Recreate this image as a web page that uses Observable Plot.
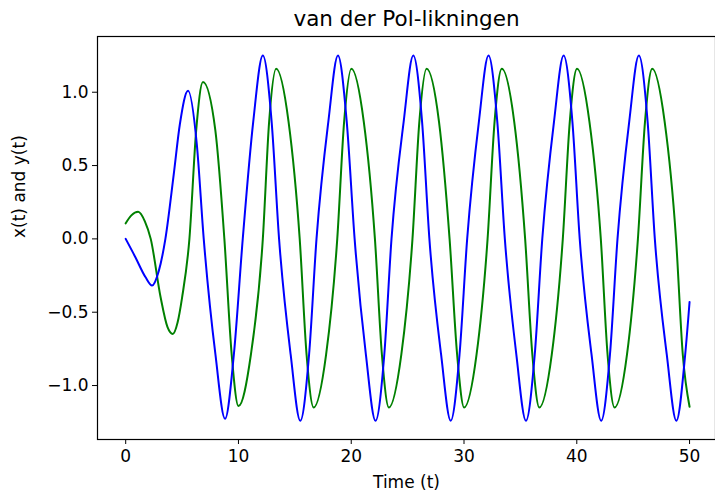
<!DOCTYPE html>
<html>
<head>
<meta charset="utf-8">
<script src="https://cdn.jsdelivr.net/npm/d3@7"></script>
<script src="https://cdn.jsdelivr.net/npm/@observablehq/plot@0.6"></script>
<style>
  html, body { margin: 0; padding: 0; background: #fff; }
</style>
</head>
<body>
<div id="chart"></div>
<script>
const title = "van der Pol-likningen";
const xLabel = "Time (t)";
const yLabel = "x(t) and y(t)";
const xTicks = [0, 10, 20, 30, 40, 50];
const yTicks = [-1.0, -0.5, 0.0, 0.5, 1.0];

// x(t) — blue curve
const xTime = [0, 0.86, 1.75, 2.34, 2.93, 3.52, 4.26, 4.8, 5.53, 6.3, 6.92, 7.96, 8.81, 9.59, 10.38, 11.31,
  12.16, 12.94, 13.60, 14.63, 15.48, 16.26, 16.92, 17.97, 18.82, 19.60, 20.30, 21.30, 22.15, 22.93, 23.57, 24.65,
  25.50, 26.28, 26.93, 27.97, 28.82, 29.60, 30.28, 31.32, 32.17, 32.95, 33.62, 34.64, 35.49, 36.27, 36.94, 37.98,
  38.83, 39.61, 40.26, 41.31, 42.16, 42.94, 43.61, 44.65, 45.50, 46.28, 46.92, 47.98, 48.83, 49.61, 50.0];
const xVals = [0, -0.125, -0.26, -0.318, -0.22, 0, 0.44, 0.78, 1.01, 0.65, 0, -0.79, -1.227, -0.79, 0, 0.80,
  1.25, 0.80, 0, -0.79, -1.24, -0.79, 0, 0.80, 1.25, 0.80, 0, -0.79, -1.24, -0.79, 0, 0.80,
  1.25, 0.80, 0, -0.79, -1.24, -0.79, 0, 0.80, 1.25, 0.80, 0, -0.79, -1.24, -0.79, 0, 0.80,
  1.25, 0.80, 0, -0.79, -1.24, -0.79, 0, 0.80, 1.25, 0.80, 0, -0.79, -1.24, -0.79, -0.43];

// y(t) — green curve
const yTime = [0, 0.5, 1.1, 1.7, 2.22, 3.1, 3.7, 4.18, 4.6, 5.0, 5.65, 6.25, 6.85, 7.95, 8.75, 9.4, 10.0, 11.1,
  12.16, 12.72, 13.34, 14.44, 15.43, 16.04, 16.67, 17.77, 18.76, 19.37, 20.01, 21.11, 22.10, 22.72, 23.34, 24.44,
  25.43, 26.04, 26.68, 27.78, 28.72, 29.39, 30.01, 31.11, 32.09, 32.71, 33.35, 34.45, 35.42, 36.06, 36.68, 37.78,
  38.76, 39.38, 40.02, 41.12, 42.13, 42.73, 43.35, 44.45, 45.42, 46.05, 46.69, 47.79, 48.80, 49.40, 50.0];
const yVals = [0.106, 0.16, 0.185, 0.12, 0, -0.40, -0.60, -0.648, -0.57, -0.40, 0, 0.74, 1.07, 0.74, 0, -0.79, -1.14, -0.79,
  0, 0.80, 1.16, 0.80, 0, -0.79, -1.15, -0.79, 0, 0.80, 1.16, 0.80, 0, -0.79, -1.15, -0.79,
  0, 0.80, 1.16, 0.80, 0, -0.79, -1.15, -0.79, 0, 0.80, 1.16, 0.80, 0, -0.79, -1.15, -0.79,
  0, 0.80, 1.16, 0.80, 0, -0.79, -1.15, -0.79, 0, 0.80, 1.16, 0.80, 0, -0.79, -1.145];

const xData = xTime.map((t, i) => ({t, v: xVals[i]}));
const yData = yTime.map((t, i) => ({t, v: yVals[i]}));

const fmt = d3.format(".1f");

const chart = Plot.plot({
  width: 715,
  height: 499,
  marginLeft: 97,
  marginRight: 0,
  marginTop: 36,
  marginBottom: 60,
  style: {fontFamily: "DejaVu Sans", background: "#fff", color: "#000"},
  x: {domain: [-2.5, 52.3]},
  y: {domain: [-1.368, 1.38]},
  marks: [
    Plot.line(yData, {x: "t", y: "v", stroke: "green", strokeWidth: 2, curve: "monotone-x"}),
    Plot.line(xData, {x: "t", y: "v", stroke: "blue", strokeWidth: 2, curve: "monotone-x"}),
    Plot.frame({stroke: "#000", strokeWidth: 1.2}),
    Plot.axisX({ticks: xTicks, tickSize: 5, tickPadding: 5, fontSize: 17, label: null, tickFormat: d => String(d)}),
    Plot.axisY({ticks: yTicks, tickSize: 5, tickPadding: 4, fontSize: 17, label: null, tickFormat: fmt}),
    Plot.text([xLabel], {frameAnchor: "bottom", dy: 48, fontSize: 17, fill: "#000"}),
    Plot.text([yLabel], {frameAnchor: "left", dx: -78, rotate: -90, fontSize: 17, fill: "#000"}),
    Plot.text([title], {frameAnchor: "top", dy: -26, fontSize: 21.5, fill: "#000"})
  ]
});
document.getElementById("chart").appendChild(chart);
</script>
</body>
</html>
